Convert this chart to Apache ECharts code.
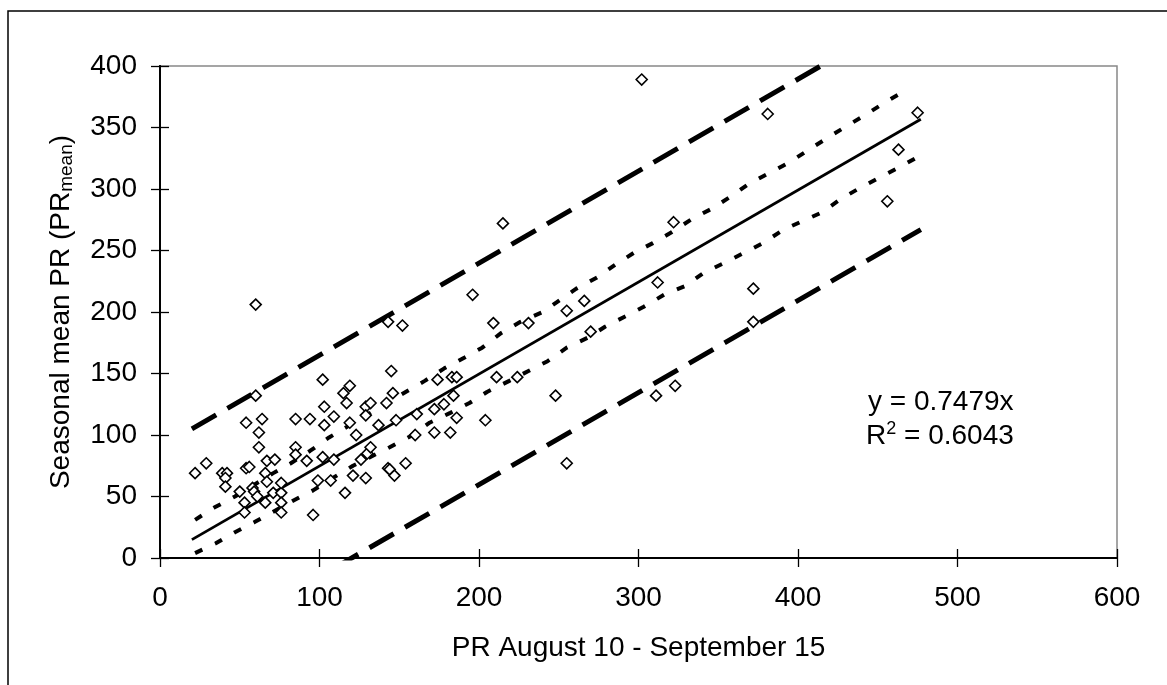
<!DOCTYPE html>
<html><head><meta charset="utf-8">
<script src="https://cdn.jsdelivr.net/npm/echarts@6/dist/echarts.min.js"></script>
<style>html,body{margin:0;padding:0;background:#fff}#c{width:1167px;height:685px}</style>
</head><body><div id="c"></div>
<script>
// Observed points: PR Aug10-Sep15 (x) vs seasonal mean PR (y)
const obsX = [22,29,39,42,41,41,50,53,53,54,56,54,58,59,61,60,60,62,62,64,66,66,67,67,71,72,76,76,76,76,85,85,85,92,94,96,99,102,102,103,103,107,109,109,115,116,117,119,119,121,123,126,129,129,129,130,132,132,137,142,143,144,143,145,146,147,148,152,154,160,161,172,172,174,178,182,183,186,184,186,196,204,209,211,215,224,231,248,255,255,266,270,302,311,312,322,323,372,372,381,456,463,475];
const obsY = [69,77,69,69,65,58,54,45,37,73,74,110,57,54,50,132,206,102,90,113,69,45,62,79,53,80,53,45,37,61,113,90,84,79,113,35,63,145,82,123,108,63,115,80,134,53,126,140,110,67,100,80,65,123,116,85,126,90,108,126,73,72,192,152,134,67,112,189,77,100,117,121,102,145,125,102,147,147,132,114,214,112,191,147,272,147,191,132,201,77,209,184,389,132,224,273,140,219,192,361,290,332,362];
// Regression line y = 0.7479x
const fitX = [20,477];
const slope = 0.7479;
// 95% prediction limits (dashed)
const predUpper = [[20,105],[477,447]];
const predLower = [[20,-75],[477,267]];
// confidence band (dotted)
const ciUpperX = [22,34,47,71,82,94,106,154,166,178,191,202,214,226,240,251,261,274,286,297,309,321,334,346,358,369,382,395,408,419,429,442,454,466];
const ciUpperY = [31,41,50,69,77,87,98,135,144,154,163,171,183,192,200,210,219,228,239,248,256,265,276,284,294,304,313,322,333,342,350,360,370,379];
const ciLowerX = [22,35,47,59,84,96,107,121,144,157,169,182,194,205,219,231,243,255,268,279,291,303,316,329,341,354,366,378,391,403,415,427,439,452,464,475];
const ciLowerY = [4,12,21,29,47,55,64,75,90,99,110,118,126,135,144,152,160,171,179,188,196,204,214,221,232,240,248,256,267,274,281,292,301,310,318,326];
const xTicks = [0,100,200,300,400,500,600];
const yTicks = [0,50,100,150,200,250,300,350,400];

const chart = echarts.init(document.getElementById('c'), null, {renderer:'canvas'});
const font = 'Liberation Sans, Arial, sans-serif';
const zip = (a,b)=>a.map((v,i)=>[v,b[i]]);
const axisLine = {show:true,lineStyle:{color:'#000',width:1.8}};
const tick = inside => ({show:true,inside:inside,length:9,lineStyle:{color:'#000',width:1.3}});
chart.setOption({
  animation:false,
  backgroundColor:'#fff',
  grid:{left:160,right:50,top:66,bottom:127,show:true,borderColor:'#888',borderWidth:1.5,backgroundColor:'transparent'},
  xAxis:[{
    type:'value',min:xTicks[0],max:xTicks[xTicks.length-1],interval:100,axisLine:axisLine,splitLine:{show:false},
    axisTick:tick(false),
    axisLabel:{color:'#000',fontSize:28,fontFamily:font,margin:26},
    name:'PR August 10 - September 15',nameLocation:'middle',nameGap:76,
    nameTextStyle:{color:'#000',fontSize:28,fontFamily:font}
  },{
    type:'value',min:xTicks[0],max:xTicks[xTicks.length-1],interval:100,position:'bottom',axisLine:axisLine,splitLine:{show:false},
    axisTick:tick(true),axisLabel:{show:false}
  }],
  yAxis:[{
    type:'value',min:yTicks[0],max:yTicks[yTicks.length-1],interval:50,axisLine:axisLine,splitLine:{show:false},
    axisTick:tick(false),
    axisLabel:{color:'#000',fontSize:28,fontFamily:font,margin:23},
    name:'{a|Seasonal mean PR (PR}{s|mean}{a|)}',nameLocation:'middle',nameGap:84,nameRotate:90,
    nameTextStyle:{rich:{a:{color:'#000',fontSize:28,fontFamily:font},s:{color:'#000',fontSize:19,fontFamily:font,verticalAlign:'bottom',padding:[10,0,0,0]}}}
  },{
    type:'value',min:yTicks[0],max:yTicks[yTicks.length-1],interval:50,position:'left',axisLine:axisLine,splitLine:{show:false},
    axisTick:tick(true),axisLabel:{show:false}
  }],
  series:[
    {type:'line',name:'pred upper',data:predUpper,symbol:'none',lineStyle:{color:'#000',width:5,type:[28,13]},z:2},
    {type:'line',name:'pred lower',data:predLower,symbol:'none',lineStyle:{color:'#000',width:5,type:[28,13]},z:2},
    {type:'line',name:'ci upper',data:zip(ciUpperX,ciUpperY),symbol:'none',lineStyle:{color:'#000',width:4,type:[8,14]},z:2},
    {type:'line',name:'ci lower',data:zip(ciLowerX,ciLowerY),symbol:'none',lineStyle:{color:'#000',width:4,type:[8,14]},z:2},
    {type:'line',name:'fit',data:fitX.map(x=>[x,slope*x]),symbol:'none',lineStyle:{color:'#000',width:2.8},z:3},
    {type:'scatter',name:'obs',data:zip(obsX,obsY),symbol:'diamond',symbolSize:[11,11],
     itemStyle:{color:'#fff',borderColor:'#000',borderWidth:1.6,opacity:1},z:4}
  ],
  graphic:[
    {type:'rect',shape:{x:8,y:11,width:1300,height:800},style:{fill:'none',stroke:'#000',lineWidth:1.5},silent:true,z:0},
    {type:'text',left:868,top:388,style:{text:'y = 0.7479x',fill:'#000',font:'28px '+font}},
    {type:'text',left:866,top:420,style:{text:'{a|R}{s|2}{a| = 0.6043}',fill:'#000',rich:{a:{fontSize:28,fontFamily:font,fill:'#000'},s:{fontSize:18,fontFamily:font,fill:'#000',verticalAlign:'top',padding:[0,0,14,0]}}}}
  ]
});
</script></body></html>
